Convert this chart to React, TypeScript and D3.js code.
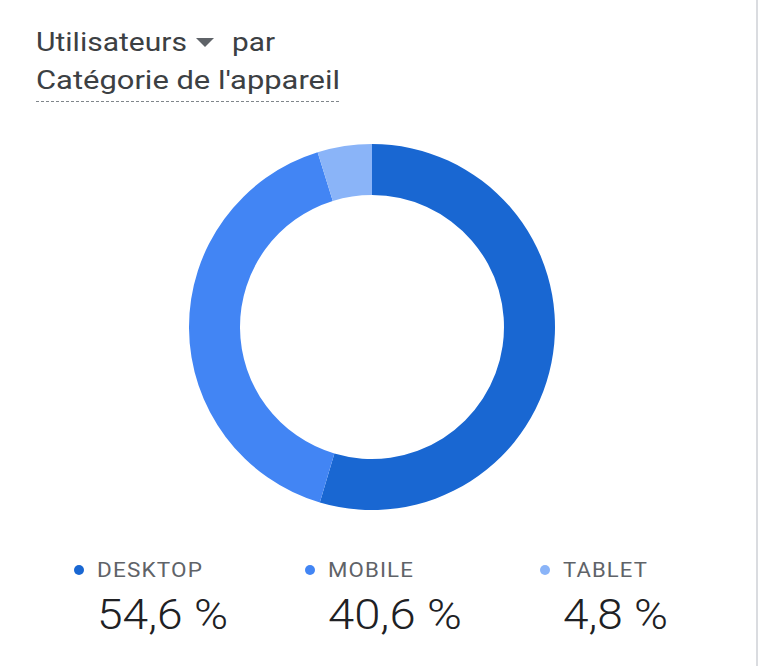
import React from "react";
import * as d3 from "d3";

const categories = ["DESKTOP", "MOBILE", "TABLET"];
const values = [54.6, 40.6, 4.8];
const valueLabels = ["54,6 %", "40,6 %", "4,8 %"];
const colors = ["#1967d2", "#4285f4", "#8ab4f8"];
const legendX = [97, 328, 563];
const labelWidths = [106, 86, 85];
const valueWidths = [131, 134, 105];

export default function App() {
  const W = 760, H = 666;
  const cx = 372, cy = 327, rOuter = 183, rInner = 132;
  const pie = d3.pie<number>().sort(null).value((d) => d)(values);
  const arc = d3.arc<d3.PieArcDatum<number>>().innerRadius(rInner).outerRadius(rOuter);
  return (
    <svg width={W} height={H} style={{ position: "fixed", left: 0, top: 0, background: "#fff" }}
      fontFamily="Roboto, 'Noto Sans', sans-serif">
      <rect x={0} y={0} width={W} height={H} fill="#ffffff" />
      <rect x={756} y={0} width={2} height={H} fill="#dadce0" />
      <text x={36} y={51} fontSize={25} fill="#3c4043" textLength={151} lengthAdjust="spacingAndGlyphs">Utilisateurs</text>
      <path d="M196,38 L214,38 L205,47 Z" fill="#5f6368" />
      <text x={232} y={51} fontSize={25} fill="#3c4043" textLength={43} lengthAdjust="spacingAndGlyphs">par</text>
      <text x={36} y={89} fontSize={25} fill="#3c4043" textLength={304} lengthAdjust="spacingAndGlyphs">Catégorie de l'appareil</text>
      <line x1={36} x2={340} y1={101.5} y2={101.5} stroke="#80868b" strokeWidth={1.2} strokeDasharray="3,2" />
      <g transform={`translate(${cx},${cy})`}>
        {pie.map((p, i) => (
          <path key={i} d={arc(p) || ""} fill={colors[i]} />
        ))}
      </g>
      {categories.map((c, i) => (
        <g key={c}>
          <circle cx={legendX[i] - 18} cy={570} r={5} fill={colors[i]} />
          <text x={legendX[i]} y={577} fontSize={19.5} fontWeight={400} letterSpacing={1} fill="#5f6368" textLength={labelWidths[i]} lengthAdjust="spacingAndGlyphs">{c}</text>
          <text x={legendX[i]} y={629} fontSize={42} fontWeight={300} fill="#202124" textLength={valueWidths[i]} lengthAdjust="spacingAndGlyphs">{valueLabels[i]}</text>
        </g>
      ))}
    </svg>
  );
}
